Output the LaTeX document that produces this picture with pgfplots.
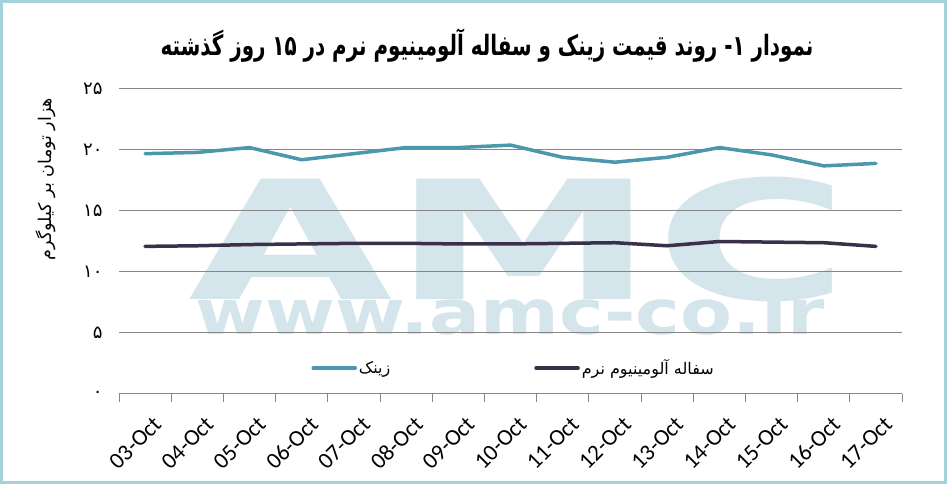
\documentclass[border=0pt]{standalone}
\usepackage{fontspec}
\usepackage{pgfplots}
\pgfplotsset{compat=1.18}
\setmainfont{Carlito}
\newfontfamily\arabicfont[Script=Arabic]{DejaVu Sans}
\newfontfamily\arabicbold[Script=Arabic]{DejaVu Sans Bold}
\newfontfamily\markfont{DejaVu Sans Bold}
\TeXXeTstate=1
\definecolor{zinc}{HTML}{4B98AD}
\definecolor{alum}{HTML}{3B3049}
\definecolor{gridc}{HTML}{868686}
\definecolor{frame}{HTML}{A3D2DC}
\definecolor{wmark}{HTML}{D4E5EB}
\begin{document}
\begin{tikzpicture}
\useasboundingbox (0,0) rectangle (947bp,484bp);
\fill[white] (0,0) rectangle (947bp,484bp);
\draw[frame, line width=3bp] (1.5bp,1.5bp) rectangle (945.5bp,482.5bp);
% watermark behind the axis
\node[wmark, font=\markfont\fontsize{165bp}{165bp}\selectfont, xscale=1.6] at (519bp,245bp) {AMC};
\node[wmark, font=\markfont\fontsize{62bp}{62bp}\selectfont, xscale=1.22] at (510bp,173bp) {www.amc-co.ir};
% title
\node[font=\arabicbold\fontsize{28bp}{32bp}\selectfont, xscale=0.71] at (487bp,438bp)
  {\beginR نمودار \beginL۱\endL- روند قیمت زینک و سفاله آلومینیوم نرم در \beginL۱۵\endL{} روز گذشته\endR};
% y label
\node[rotate=90, font=\arabicfont\fontsize{17.5bp}{20bp}\selectfont] at (46bp,305bp)
  {\beginR هزار تومان بر کیلوگرم\endR};
\begin{axis}[
  at={(119bp,90bp)}, anchor=south west,
  scale only axis, width=783bp, height=305bp,
  xmin=-0.5, xmax=14.5, ymin=0, ymax=25,
  axis x line*=bottom, axis y line*=left,
  x axis line style={-, draw=gridc, line width=1bp},
  y axis line style={draw=none},
  ymajorgrids, grid style={draw=gridc, line width=1bp},
  ytick={0,5,10,15,20,25},
  yticklabels={۰,۵,۱۰,۱۵,۲۰,۲۵},
  yticklabel style={font=\arabicfont\fontsize{18bp}{20bp}\selectfont, xshift=-13bp},
  xtick={0,...,14},
  xticklabels={03-Oct,04-Oct,05-Oct,06-Oct,07-Oct,08-Oct,09-Oct,10-Oct,11-Oct,12-Oct,13-Oct,14-Oct,15-Oct,16-Oct,17-Oct},
  xticklabel style={font=\fontsize{23bp}{26bp}\selectfont, inner sep=0pt,
    xshift=7bp, yshift=-21bp, rotate=45, anchor=north east},
  major tick length=0pt,
  minor xtick={-0.5,0.5,...,14.5},
  minor tick length=8bp, tick align=outside,
  minor tick style={draw=gridc, line width=1bp},
  legend columns=2,
  legend style={at={(0.504,0.085)}, anchor=center, draw=none, fill=none,
    font=\arabicfont\fontsize{16bp}{18bp}\selectfont,
    /tikz/every even column/.append style={column sep=142bp}},
  legend image code/.code={\draw[#1] (0bp,0bp) -- (42bp,0bp);},
  legend cell align=left,
]
\addplot[zinc, line width=3.5bp, line join=round, line cap=round] coordinates {
 (0,19.7) (1,19.8) (2,20.2) (3,19.2) (4,19.7) (5,20.2) (6,20.2) (7,20.4)
 (8,19.4) (9,19.0) (10,19.4) (11,20.2) (12,19.6) (13,18.7) (14,18.9)
};
\addlegendentry{\beginR زینک\endR}
\addplot[alum, line width=3.5bp, line join=round, line cap=round] coordinates {
 (0,12.1) (1,12.15) (2,12.25) (3,12.3) (4,12.35) (5,12.35) (6,12.3) (7,12.3)
 (8,12.35) (9,12.4) (10,12.15) (11,12.5) (12,12.45) (13,12.4) (14,12.1)
};
\addlegendentry{\beginR سفاله آلومینیوم نرم\endR}
\end{axis}
\end{tikzpicture}
\end{document}
